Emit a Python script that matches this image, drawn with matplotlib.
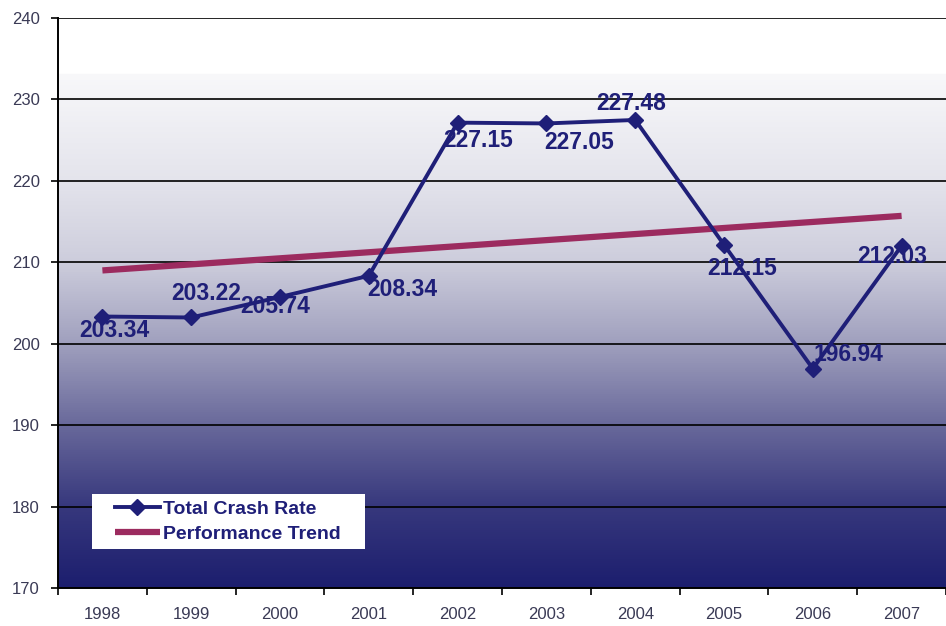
import numpy as np
import matplotlib.pyplot as plt
from matplotlib.colors import LinearSegmentedColormap
from matplotlib.patches import Rectangle

# data
years = ["1998", "1999", "2000", "2001", "2002", "2003", "2004", "2005", "2006", "2007"]
crash_rate = [203.34, 203.22, 205.74, 208.34, 227.15, 227.05, 227.48, 212.15, 196.94, 212.03]
trend_ends = [209.0, 215.7]   # performance trend at first / last year
# label offsets in pixels (dx, dy)
label_offsets = [(12, -14), (15, 24), (-5, -10), (34, -14), (21, -18),
                 (33, -19), (-4, 16), (18, -24), (36, 14), (-9, -11)]

NAVY = "#1f1f78"
TREND = "#9c2b5f"

plt.rcParams["font.family"] = ["Liberation Sans", "DejaVu Sans"]

fig = plt.figure(figsize=(9.46, 6.26), dpi=100)
ax = fig.add_axes([58 / 946, 38 / 626, 888 / 946, 570 / 626])

# background gradient (white top, navy bottom)
stops = [(0.0, (28, 30, 110)), (0.143, (55, 56, 125)), (0.286, (105, 105, 155)),
         (0.43, (160, 160, 190)), (0.572, (205, 205, 220)), (0.716, (228, 228, 236)),
         (0.903, (248, 248, 250)), (0.905, (255, 255, 255)), (1.0, (255, 255, 255))]
cmap = LinearSegmentedColormap.from_list(
    "bg", [(p, tuple(c / 255 for c in col)) for p, col in stops])
grad = np.linspace(1, 0, 512).reshape(-1, 1)
ax.imshow(grad, cmap=cmap, aspect="auto", extent=[0, 1, 0, 1],
          transform=ax.transAxes, zorder=0, vmin=0, vmax=1)

x = np.arange(len(years))
ax.set_xlim(-0.5, 9.47)
ax.set_ylim(170, 240)

for yv in range(180, 241, 10):
    ax.axhline(yv, color="black", lw=1.2, zorder=1)

ax.plot([x[0], x[-1]], trend_ends, color=TREND, lw=4.5, zorder=2,
        solid_capstyle="butt", label="Performance Trend")
ax.plot(x, crash_rate, color=NAVY, lw=2.8, marker="D", ms=8, zorder=3,
        label="Total Crash Rate")

for xi, v, (dx, dy) in zip(x, crash_rate, label_offsets):
    ax.annotate(f"{v:.2f}", (xi, v), xytext=(dx, dy), textcoords="offset pixels",
                ha="center", va="center", fontsize=16.5, fontweight="bold",
                color=NAVY, zorder=4)

ax.set_yticks(range(170, 241, 10))
ax.set_xticks(x)
ax.set_xticklabels(years)
ax.set_xticks(np.arange(-0.5, 9.6, 1), minor=True)
ax.tick_params(axis="x", which="major", length=0, pad=14,
               labelsize=12, labelcolor="#3a3a55")
ax.tick_params(axis="x", which="minor", length=5, width=1.2, direction="out")
ax.tick_params(axis="y", length=5, width=1.2, labelsize=12,
               labelcolor="#3a3a55", pad=8)
for s in ("top", "right"):
    ax.spines[s].set_visible(False)
for s in ("left", "bottom"):
    ax.spines[s].set_linewidth(1.4)
    ax.spines[s].set_zorder(5)

# white legend box, wider than the entries
ax.add_patch(Rectangle((0.0383, 0.0684), 0.3074, 0.0965, transform=ax.transAxes,
                       facecolor="white", edgecolor="none", zorder=6))
handles, labels = ax.get_legend_handles_labels()
leg = ax.legend(handles[::-1], labels[::-1], loc="center left",
                bbox_to_anchor=(0.0642, 0.1167), frameon=False,
                borderpad=0, borderaxespad=0,
                handlelength=2.3, handletextpad=0.15, labelspacing=0.4,
                prop={"size": 14, "weight": "bold"})
for t in leg.get_texts():
    t.set_color(NAVY)
leg.set_zorder(7)

fig.savefig("out.png", dpi=100)
